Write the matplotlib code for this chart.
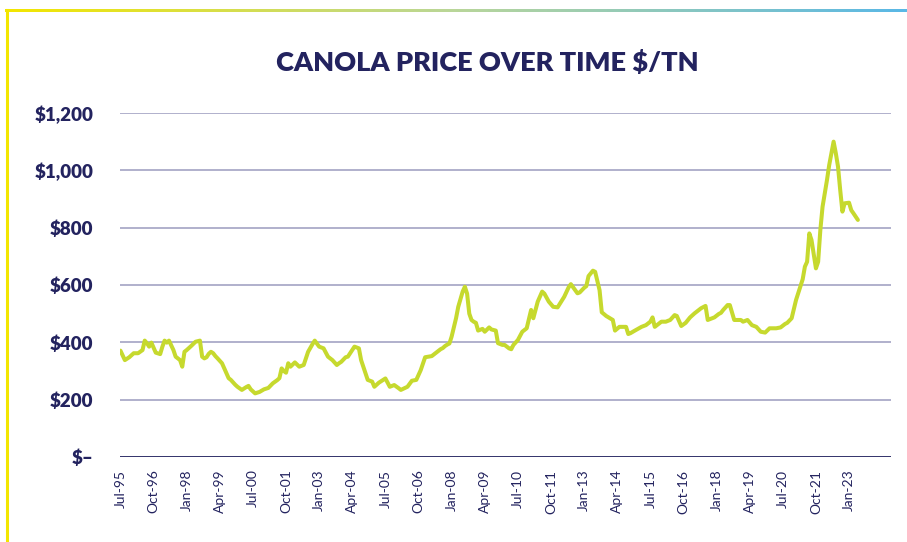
import matplotlib
matplotlib.use("Agg")
import matplotlib.pyplot as plt
import numpy as np
from matplotlib.lines import Line2D
from matplotlib.colors import LinearSegmentedColormap

# Month offsets from Jul-1995 and canola price ($/tonne)
months = [0, 2, 4, 6, 8, 10, 11, 12, 13, 14, 16, 18, 19, 20, 21, 22, 24, 25, 26, 27,
          28, 29, 30, 32, 34, 35, 36, 37, 38, 39, 40, 41, 42, 43, 44, 46, 48, 49, 50, 52,
          53, 55, 57, 58, 59, 61, 63, 65, 67, 69, 71, 72, 73, 74, 75, 76, 77, 79, 81, 83,
          85, 87, 88, 90, 92, 94, 96, 98, 99, 100, 102, 103, 105, 106, 108, 109, 111, 112, 114, 115,
          117, 120, 122, 124, 126, 127, 130, 132, 134, 136, 138, 141, 143, 145, 146, 147, 148, 149, 150, 152,
          153, 154, 155, 156, 157, 158, 159, 160, 161, 162, 164, 165, 167, 168, 170, 171, 173, 174, 176, 177,
          178, 180, 182, 184, 186, 187, 189, 191, 192, 194, 196, 198, 201, 203, 204, 207, 208, 210, 211, 212,
          214, 215, 217, 218, 220, 223, 224, 226, 229, 230, 231, 233, 236, 238, 240, 241, 242, 244, 245, 247,
          249, 251, 252, 254, 256, 258, 260, 263, 265, 266, 269, 271, 272, 273, 275, 276, 278, 281, 282, 284,
          286, 288, 290, 292, 294, 297, 299, 301, 302, 304, 306, 309, 310, 311, 312, 313, 315, 316, 317, 318,
          320, 321, 322, 323, 324, 325, 326, 327, 328, 330, 331, 332, 334]
price = [371, 338, 348, 362, 362, 373, 406, 397, 385, 399, 364, 359, 385, 406, 399, 406, 373, 350, 344, 338,
         315, 367, 373, 387, 402, 404, 406, 350, 344, 348, 360, 367, 362, 352, 344, 327, 292, 275, 269, 252,
         245, 234, 244, 248, 236, 222, 227, 236, 241, 257, 268, 275, 309, 300, 294, 327, 315, 330, 315, 321,
         367, 394, 406, 385, 379, 350, 338, 321, 327, 332, 348, 350, 373, 385, 379, 338, 292, 269, 263, 245,
         259, 274, 245, 251, 240, 234, 245, 266, 269, 303, 348, 352, 364, 376, 380, 387, 392, 396, 420, 484,
         524, 550, 577, 594, 570, 500, 478, 472, 468, 441, 447, 437, 452, 445, 441, 397, 391, 391, 379, 376,
         391, 408, 437, 449, 513, 484, 542, 577, 570, 542, 524, 522, 559, 592, 603, 571, 574, 590, 596, 631,
         650, 646, 582, 505, 492, 478, 441, 454, 454, 429, 432, 441, 454, 460, 472, 487, 454, 466, 472, 472,
         478, 495, 492, 457, 468, 487, 501, 519, 527, 478, 487, 499, 503, 513, 530, 530, 478, 478, 472, 478,
         460, 454, 437, 434, 449, 449, 452, 464, 468, 484, 548, 620, 664, 681, 780, 757, 658, 681, 792, 873,
         966, 1018, 1059, 1100, 1060, 1013, 931, 856, 885, 887, 861, 850, 827]

tick_months = list(range(0, 331, 15))
tick_labels = ["Jul-95", "Oct-96", "Jan-98", "Apr-99", "Jul-00", "Oct-01", "Jan-03", "Apr-04",
               "Jul-05", "Oct-06", "Jan-08", "Apr-09", "Jul-10", "Oct-11", "Jan-13", "Apr-14",
               "Jul-15", "Oct-16", "Jan-18", "Apr-19", "Jul-20", "Oct-21", "Jan-23"]
y_ticks = [0, 200, 400, 600, 800, 1000, 1200]
y_labels = ["$\u2013", "$200", "$400", "$600", "$800", "$1,000", "$1,200"]

navy = "#23235f"
grid_c = "#9b9bbf"
line_c = "#c6d92e"

plt.rcParams['font.family'] = ['Lato', 'DejaVu Sans']

fig = plt.figure(figsize=(9.07, 5.42), dpi=100)
ax = fig.add_axes([120/907, 1-457/542, (891-120)/907, (457-113)/542])

ax.plot(months, price, color=line_c, lw=2.9, solid_joinstyle='round', solid_capstyle='round', zorder=3)

ax.set_xlim(-0.2, 349)
ax.set_ylim(0, 1200)
ax.set_yticks(y_ticks)
ax.set_yticklabels(y_labels, fontsize=13.5, fontweight='heavy', color=navy)
ax.set_xticks(tick_months)
ax.set_xticklabels(tick_labels, rotation=90, fontsize=10, color=navy)
ax.tick_params(axis='both', length=0)
ax.tick_params(axis='y', pad=19)
ax.tick_params(axis='x', pad=9)

for v in y_ticks[1:]:
    ax.axhline(v, color=grid_c, lw=1.1, zorder=1)
ax.axhline(0, color=navy, lw=1.3, zorder=2)
for s in ax.spines.values():
    s.set_visible(False)

fig.text(487/907, 1-63/542, "CANOLA PRICE OVER TIME $/TN", ha='center', va='center',
         fontsize=19.5, fontweight='heavy', color=navy)

# decorative frame: yellow left edge and gradient top edge
fig.add_artist(Line2D([7/907, 7/907], [0, 1-10/542], color="#f3e600", lw=2.2,
                      transform=fig.transFigure))
gax = fig.add_axes([5/907, 1-12/542, 902/907, 3/542])
grad = np.linspace(0, 1, 256).reshape(1, -1)
cmap = LinearSegmentedColormap.from_list("g", ["#f3e600", "#b9d69a", "#5ab8e6"])
gax.imshow(grad, aspect='auto', cmap=cmap)
gax.axis('off')

fig.savefig("out.png", dpi=100, facecolor='white')
